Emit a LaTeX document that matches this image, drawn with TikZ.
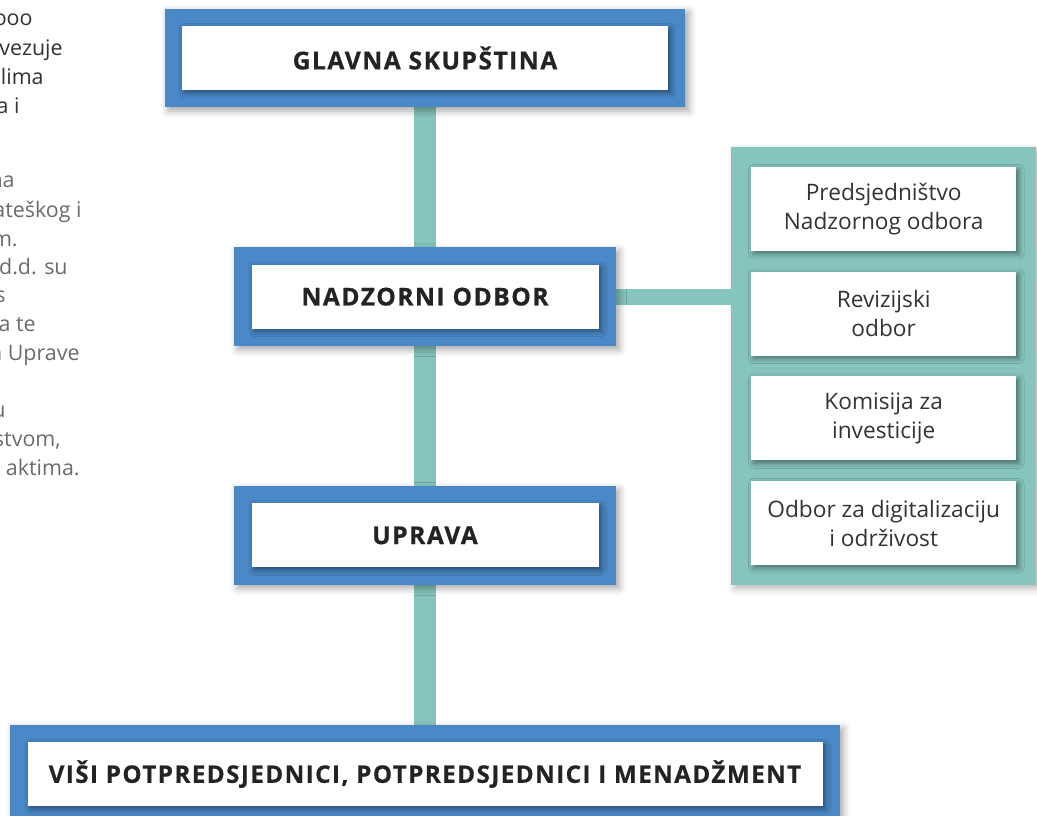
\documentclass[tikz,border=0pt]{standalone}
\usepackage{fontspec}
\setmainfont{Open Sans}
\newfontfamily\headfont[LetterSpace=6, BoldFeatures={FakeBold=0.6}]{Open Sans}
\usetikzlibrary{positioning,fit,backgrounds,shadows.blur}
\definecolor{frameblue}{HTML}{4A88C7}
\definecolor{linkteal}{HTML}{86C5BD}
\definecolor{headtext}{HTML}{232323}
\definecolor{subtext}{HTML}{333333}
\definecolor{fragdark}{HTML}{333333}
\definecolor{fraglight}{HTML}{6B6B6B}

\begin{document}
\begin{tikzpicture}[
                    node distance=3.48cm,
                    head/.style={fill=white, minimum height=1.28cm, inner sep=0pt, font=\headfont\bfseries\fontsize{14}{16}\selectfont, text=headtext, blur shadow={shadow xshift=1.5pt, shadow yshift=-1.5pt, shadow blur radius=3pt, shadow opacity=45}},
                    frame/.style={fill=frameblue, inner sep=0.34cm, blur shadow={shadow xshift=2pt, shadow yshift=-2pt, shadow blur radius=4pt, shadow opacity=35}},
                    sub/.style={fill=white, minimum width=5.3cm, minimum height=1.68cm, inner sep=0pt, align=center, font=\fontsize{12.9}{16.4}\selectfont, text=subtext, blur shadow={shadow xshift=1.5pt, shadow yshift=-1.5pt, shadow blur radius=3pt, shadow opacity=45}},
                    panel/.style={fill=linkteal, inner sep=0.39cm, blur shadow={shadow xshift=2pt, shadow yshift=-2pt, shadow blur radius=4pt, shadow opacity=30}},
                    link/.style={draw=linkteal, line width=0.44cm},
                    frag/.style={anchor=base east, inner sep=0pt, font=\fontsize{12.2}{15}\selectfont}
                ]
                \useasboundingbox (0,0) rectangle (20.74,-16.32);

                % Cut-off text on the left
                \node[frag, text=fragdark] (note1) at (0.66,-0.52) {ooo};
                \node[frag, text=fragdark] (note2) at (1.26,-1.12) {vezuje};
                \node[frag, text=fragdark] (note3) at (0.88,-1.70) {lima};
                \node[frag, text=fragdark] (note4) at (0.40,-2.28) {a i};
                \node[frag, text=fraglight] (note5) at (0.30,-3.76) {na};
                \node[frag, text=fraglight] (note6) at (1.64,-4.36) {ateškog i};
                \node[frag, text=fraglight] (note7) at (0.36,-4.94) {m.};
                \node[frag, text=fraglight] (note8) at (1.36,-5.50) {d.d. su};
                \node[frag, text=fraglight] (note9) at (0.12,-6.06) {s};
                \node[frag, text=fraglight] (note10) at (0.72,-6.64) {a te};
                \node[frag, text=fraglight] (note11) at (1.60,-7.22) {n Uprave};
                \node[frag, text=fraglight] (note12) at (0.12,-8.36) {u};
                \node[frag, text=fraglight] (note13) at (1.22,-8.94) {stvom,};
                \node[frag, text=fraglight] (note14) at (1.60,-9.52) {n aktima.};

                % Main chain
                \node[head, minimum width=9.72cm] (glavna) at (8.5,-1.16) {GLAVNA SKUPŠTINA};
                \node[head, minimum width=6.94cm, below=of glavna] (nadzor) {NADZORNI ODBOR};
                \node[head, minimum width=6.94cm, below=of nadzor] (uprava) {UPRAVA};
                \node[head, minimum width=15.9cm, below=of uprava, font=\headfont\bfseries\fontsize{13.75}{16}\selectfont] (visi) {VIŠI POTPREDSJEDNICI, POTPREDSJEDNICI I MENADŽMENT};

                % Committees
                \node[sub, above right=0.26cm and 3.04cm of nadzor] (predsj) {Predsjedništvo\\Nadzornog odbora};
                \node[sub, below=0.4cm of predsj] (revizija) {Revizijski\\odbor};
                \node[sub, below=0.4cm of revizija] (komisija) {Komisija za\\investicije};
                \node[sub, below=0.4cm of komisija] (digital) {Odbor za digitalizaciju\\i održivost};

                \begin{scope}[on background layer]
                    \node[panel, fit=(predsj)(digital)] (odbori) {};

                    % Connections
                    \draw[link] (glavna) -- (nadzor);
                    \draw[link] (nadzor) -- (uprava);
                    \draw[link] (uprava) -- (visi);
                    \draw[link, line width=0.32cm] (nadzor.east) -- (nadzor.east -| odbori.west);

                    \node[frame, fit=(glavna)] (glavna-frame) {};
                    \node[frame, fit=(nadzor)] (nadzor-frame) {};
                    \node[frame, fit=(uprava)] (uprava-frame) {};
                    \node[frame, fit=(visi)] (visi-frame) {};
                \end{scope}
            \end{tikzpicture}
\end{document}
